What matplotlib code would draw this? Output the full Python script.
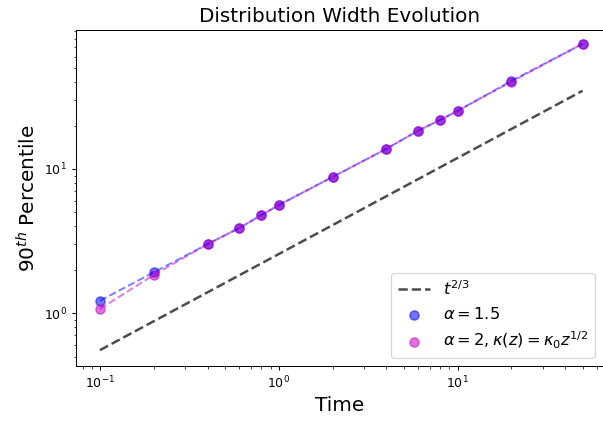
"""Distribution width evolution (90th percentile vs time)."""
import numpy as np
import matplotlib
matplotlib.use("Agg")
import matplotlib.pyplot as plt

# data
times = [0.1, 0.2, 0.4, 0.6, 0.8, 1, 2, 4, 6, 8, 10, 20, 50]
p90_alpha15 = [1.22, 1.92, 3.01, 3.89, 4.79, 5.62, 8.8, 13.8, 18.4, 21.9, 25.3, 40.8, 73.8]
p90_alpha2 = [1.07, 1.84, 3.01, 3.89, 4.79, 5.62, 8.8, 13.8, 18.4, 21.9, 25.3, 40.3, 73.8]
ref_prefactor = 2.57

t = np.array(times)
DPI = 90

fig = plt.figure(figsize=(603 / DPI, 424 / DPI), dpi=DPI)
ax = fig.add_axes([76 / 603, 1 - 366 / 424, 1 - 76 / 603, (366 - 30) / 424])

ax.plot(t, ref_prefactor * t ** (2 / 3), '--', color='k', alpha=0.7, lw=2,
        label=r'$t^{2/3}$')
ax.plot(t, p90_alpha15, '--', color='b', alpha=0.5, lw=1.6)
ax.scatter(t, p90_alpha15, color='b', alpha=0.55, s=55, label=r'$\alpha=1.5$')
ax.plot(t, p90_alpha2, '--', color='m', alpha=0.5, lw=1.6)
ax.scatter(t, p90_alpha2, color='m', alpha=0.55, s=55,
           label=r'$\alpha=2, \kappa(z)=\kappa_0 z^{1/2}$')

ax.set_xscale('log')
ax.set_yscale('log')
ax.set_xlim(0.0735, 65)
ax.set_ylim(0.43, 92)
ax.set_xlabel('Time', fontsize=16)
ax.set_ylabel(r'$90^{th}$ Percentile', fontsize=16)
ax.set_title('Distribution Width Evolution', fontsize=16)
ax.legend(loc='lower right', fontsize=13)

fig.savefig('out.png', dpi=DPI)
